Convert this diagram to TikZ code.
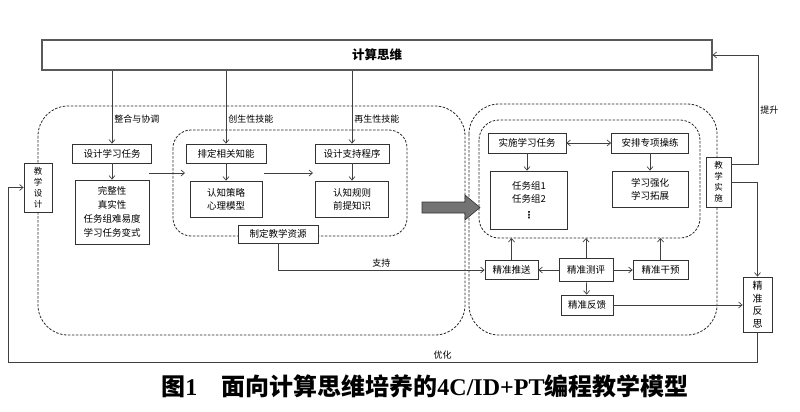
\documentclass[tikz,border=0pt]{standalone}
\usepackage{fontspec}
\setmainfont{Noto Sans CJK SC}
\newfontfamily\capserif{Liberation Serif}
\newfontfamily\dotsfont{DejaVu Sans}
\usetikzlibrary{arrows.meta}

\begin{document}
\begin{tikzpicture}
 [x=1pt, y=-1pt, >={Straight Barb[length=3.5pt,width=6pt]},
  box/.style={draw=black!80, line width=0.8pt, fill=white, inner sep=0pt, align=center, font=\fontsize{9.5}{13}\selectfont},
  vbox/.style={box, font=\fontsize{8.5}{11}\selectfont},
  region/.style={draw=black!85, line width=0.8pt, dash pattern=on 2.5pt off 1.5pt},
  link/.style={draw=black!75, line width=0.7pt},
  tag/.style={font=\fontsize{9}{11}\selectfont, inner sep=2pt}]

\useasboundingbox (0,0) rectangle (800,412);

% dashed regions
\draw[region, rounded corners=30] (38,106) rectangle (465,335);
\draw[region, rounded corners=18] (173,130) rectangle (407,236);
\draw[region, rounded corners=30] (469,104) rectangle (717,335);
\draw[region, rounded corners=20] (479,120) rectangle (700,238);

% top
\node[box, draw=black!65, minimum width=670pt, minimum height=30pt, line width=1.2pt, font=\fontsize{12.5}{14}\selectfont\bfseries] (thinking) at (377,55) {计算思维};

% left part
\node[vbox, minimum width=28pt, minimum height=49pt] (design) at (38,187.5) {教\\学\\设\\计};
\node[box, minimum width=79pt, minimum height=19pt] (taskdesign) at (112,153.5) {设计学习任务};
\node[box, minimum width=74pt, minimum height=64pt, font=\fontsize{9.5}{14}\selectfont] (taskattr) at (112,212) {完整性\\真实性\\任务组难易度\\学习任务变式};
\node[box, minimum width=80pt, minimum height=19pt] (arrange) at (226,153.5) {排定相关知能};
\node[box, minimum width=72pt, minimum height=36pt] (strategy) at (226,199) {认知策略\\心理模型};
\node[box, minimum width=74pt, minimum height=19pt] (support) at (352,153.5) {设计支持程序};
\node[box, minimum width=73pt, minimum height=36pt] (rules) at (352,199) {认知规则\\前提知识};
\node[box, minimum width=80pt, minimum height=18pt] (resource) at (278,234) {制定教学资源};

\coordinate (f1) at (149,173);
\coordinate (f2) at (185,173);
\coordinate (f3) at (264,173);
\coordinate (f4) at (313,173);

% big gray arrow
\draw[draw=black!80, fill=black!55, line width=0.6pt]
  (422,202) -- (465,202) -- (465,195) -- (480,207.5) -- (465,220) -- (465,213) -- (422,213) -- cycle;

% right part
\node[box, minimum width=78pt, minimum height=20pt] (implement) at (527,143) {实施学习任务};
\node[box, minimum width=77pt, minimum height=20pt] (drill) at (650,143) {安排专项操练};
\node[box, minimum width=77pt, minimum height=58pt, font=\fontsize{9.5}{13.5}\selectfont] (groups) at (529,200) {任务组1\\任务组2\\[2pt]{\dotsfont\bfseries ⋮}};
\node[box, minimum width=76pt, minimum height=36pt] (reinforce) at (650,189) {学习强化\\学习拓展};
\node[vbox, minimum width=25pt, minimum height=50pt] (teach) at (718.5,182) {教\\学\\实\\施};
\node[box, minimum width=53pt, minimum height=19pt] (push) at (511.5,270) {精准推送};
\node[box, minimum width=54pt, minimum height=23pt] (assess) at (586,270) {精准测评};
\node[box, minimum width=55pt, minimum height=19pt] (intervene) at (660.5,270) {精准干预};
\node[box, minimum width=52pt, minimum height=20pt] (feedback) at (587,305) {精准反馈};
\node[box, minimum width=29pt, minimum height=55pt, font=\fontsize{10}{12.5}\selectfont] (reflect) at (757.5,304.5) {精\\准\\反\\思};

\coordinate (rb) at (0,238);
\coordinate (lift) at (758,55);
\coordinate (loop) at (8,362);

\path
  (thinking.south -| taskdesign) edge [link, ->] node [tag, right, pos=0.66] {整合与协调} (taskdesign)
  (thinking.south -| arrange) edge [link, ->] node [tag, right, pos=0.66] {创生性技能} (arrange)
  (thinking.south -| support) edge [link, ->] node [tag, right, pos=0.66] {再生性技能} (support)
  (taskdesign) edge [link, ->] (taskattr)
  (arrange) edge [link, ->] (strategy)
  (support) edge [link, ->] (rules)
  (f1) edge [link, ->] (f2)
  (f3) edge [link, ->] (f4)
  (implement) edge [link, <->] (drill)
  (implement) edge [link, ->] (implement |- groups.north)
  (drill) edge [link, ->] (reinforce)
  (assess) edge [link, ->] (push)
  (assess) edge [link, ->] (intervene)
  (assess) edge [link, ->] (feedback)
  (push) edge [link, ->] (push |- rb)
  (assess) edge [link, ->] (assess |- rb)
  (intervene) edge [link, ->] (intervene |- rb);

\draw[link, ->] (resource) |- node [tag, above, pos=0.75] {支持} (push);
\draw[link, ->] (feedback.east) -- (feedback.east -| reflect.west);
\draw[link, ->] (teach) -| (reflect);
\draw[link, ->] ([yshift=-8pt]teach.north east) -| node [tag, right, pos=0.75] {提升} (lift) -- (thinking.east);
\draw[link, ->] (reflect) |- node [tag, above, pos=0.71] {优化} (loop) |- (design);

% caption
\node[font=\fontsize{24}{27}\selectfont\bfseries] (caption) at (425,386)
  {图{\capserif 1}\quad 面向计算思维培养的{\capserif 4C/ID+PT}编程教学模型};

\end{tikzpicture}
\end{document}
